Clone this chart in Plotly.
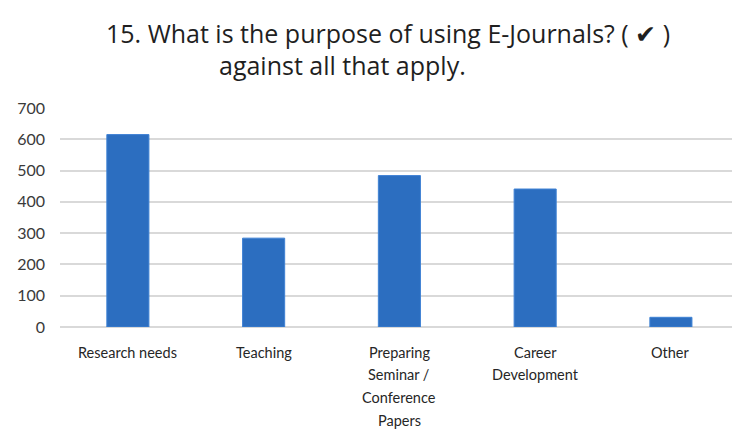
import plotly.graph_objects as go

# Survey responses: purpose of using E-Journals
categories = ["Research needs", "Teaching", "Preparing Seminar / Conference Papers",
              "Career Development", "Other"]
label_lines = [["Research needs"], ["Teaching"],
               ["Preparing", "Seminar /", "Conference", "Papers"],
               ["Career", "Development"], ["Other"]]
responses = [615, 284, 484, 441, 31]
y_ticks = [0, 100, 200, 300, 400, 500, 600, 700]

title_line1 = "15. What is the purpose of using E-Journals? ( \u2714 )"
title_line2 = "against all that apply."

FONT = "Lato, Carlito, Calibri, sans-serif"
TITLE_FONT = "'Open Sans', Lato, sans-serif"
BAR_COLOR = "#2C6EC0"
GRID = "#D9D9D9"

fig = go.Figure(go.Bar(
    x=categories,
    y=responses,
    marker=dict(color=BAR_COLOR, line=dict(color="#3F82D4", width=1)),
    width=0.31,
))

annotations = [
    dict(text=title_line1, xref="paper", yref="paper", x=0.488, y=1.342,
         xanchor="center", yanchor="middle", showarrow=False,
         font=dict(family=TITLE_FONT, size=25, color="#1F1F1F")),
    dict(text=title_line2, xref="paper", yref="paper", x=0.421, y=1.195,
         xanchor="center", yanchor="middle", showarrow=False,
         font=dict(family=TITLE_FONT, size=25, color="#1F1F1F")),
]
# category labels, one annotation per wrapped line
for cat, lines in zip(categories, label_lines):
    for k, line in enumerate(lines):
        annotations.append(dict(
            text=line, x=cat, xref="x", y=0, yref="paper",
            xanchor="center", yanchor="middle", showarrow=False,
            yshift=-(25 + 22.8 * k),
            font=dict(family=FONT, size=14.5, color="#262626"),
        ))

fig.update_layout(
    width=732, height=429,
    margin=dict(l=60, r=0, t=108, b=102),
    paper_bgcolor="white", plot_bgcolor="white",
    showlegend=False,
    annotations=annotations,
    xaxis=dict(
        type="category",
        range=[-0.5, 4.45],
        showticklabels=False,
        showgrid=False, zeroline=False, showline=False, ticks="",
    ),
    yaxis=dict(
        range=[0, 700],
        tickvals=y_ticks,
        ticktext=[str(v) for v in y_ticks],
        showgrid=True, gridcolor=GRID, gridwidth=1.5,
        zeroline=True, zerolinecolor=GRID, zerolinewidth=1.5,
        showline=False, ticks="",
        ticklabelstandoff=14,
        tickfont=dict(family=FONT, size=16, color="#3A3A3A"),
    ),
)

fig.write_html("out.html")
